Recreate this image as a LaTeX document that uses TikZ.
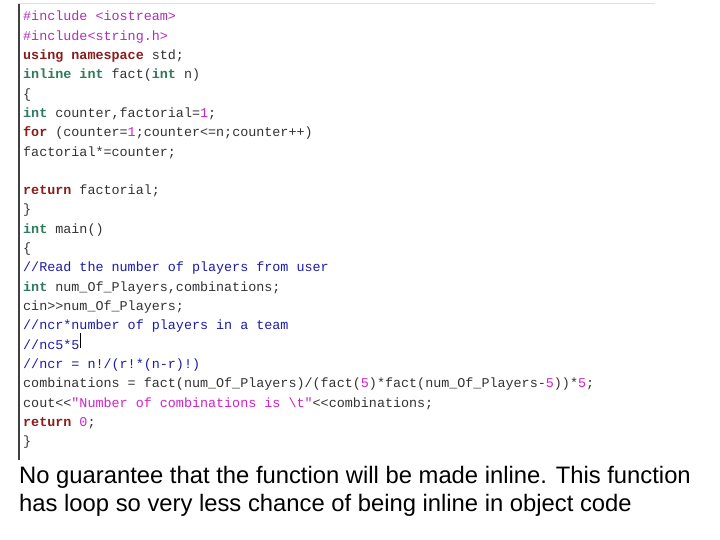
\documentclass[tikz,border=0pt]{standalone}
\usepackage{fontspec}
\setmainfont{Liberation Sans}
\newfontfamily\codefont{Liberation Mono}
\definecolor{pp}{HTML}{B030B8}
\definecolor{kr}{HTML}{8B1C1C}
\definecolor{kg}{HTML}{2E7A5C}
\definecolor{cb}{HTML}{1C1CA8}
\definecolor{mg}{HTML}{D022C8}
\definecolor{tx}{HTML}{333333}
\newcommand{\KR}[1]{\textcolor{kr}{\bfseries #1}}
\newcommand{\KG}[1]{\textcolor{kg}{\bfseries #1}}
\newcommand{\CM}[1]{\textcolor{cb}{#1}}
\newcommand{\MG}[1]{\textcolor{mg}{#1}}
\begin{document}
\begin{tikzpicture}[x=1pt,y=-1pt,
  code/.style={anchor=base west,inner sep=0pt,font=\codefont\fontsize{13.4}{14}\selectfont,text=tx},
  prose/.style={anchor=base west,inner sep=0pt,font=\fontsize{23.8}{28}\selectfont,text=black}]
\useasboundingbox (0,0) rectangle (720,540);
\fill[white] (0,0) rectangle (720,540);
\draw[black!12,line width=1pt] (18,3.5) -- (655,3.5);
\draw[black!75,line width=2pt] (19,4) -- (19,460);
\def\lx{23}
\node[code] (l1) at (\lx,21) {\textcolor{pp}{\#include <iostream>}};
\node[code] (l2) at (\lx,40.3) {\textcolor{pp}{\#include<string.h>}};
\node[code] (l3) at (\lx,59.6) {\KR{using namespace} std;};
\node[code] (l4) at (\lx,78.9) {\KG{inline int} fact(\KG{int} n)};
\node[code] (l5) at (\lx,98.2) {\{};
\node[code] (l6) at (\lx,117.5) {\KG{int} counter,factorial=\MG{1};};
\node[code] (l7) at (\lx,136.8) {\KR{for} (counter=\MG{1};counter<=n;counter++)};
\node[code] (l8) at (\lx,156.1) {factorial*=counter;};
\node[code] (l10) at (\lx,194.7) {\KR{return} factorial;};
\node[code] (l11) at (\lx,214) {\}};
\node[code] (l12) at (\lx,233.3) {\KG{int} main()};
\node[code] (l13) at (\lx,252.6) {\{};
\node[code] (l14) at (\lx,271.9) {\CM{//Read the number of players from user}};
\node[code] (l15) at (\lx,291.2) {\KG{int} num\_Of\_Players,combinations;};
\node[code] (l16) at (\lx,310.5) {cin>{}>num\_Of\_Players;};
\node[code] (l17) at (\lx,329.8) {\CM{//ncr*number of players in a team}};
\node[code] (l18) at (\lx,349.1) {\CM{//nc5*5}};
\draw[black,line width=0.6pt] (l18.east) ++(1,-11) -- ++(0,15);
\node[code] (l19) at (\lx,368.4) {\CM{//ncr = n!/(r!*(n-r)!)}};
\node[code] (l20) at (\lx,387.7) {combinations = fact(num\_Of\_Players)/(fact(\MG{5})*fact(num\_Of\_Players-\MG{5}))*\MG{5};};
\node[code] (l21) at (\lx,407) {cout<{}<\MG{"Number of combinations is \textbackslash t"}<{}<combinations;};
\node[code] (l22) at (\lx,426.3) {\KR{return} \MG{0};};
\node[code] (l23) at (\lx,445.6) {\}};
\node[prose] (p1) at (19,483) {No guarantee that the function will be made inline. This function};
\node[prose] (p2) at (19,511.5) {has loop so very less chance of being inline in object code};
\end{tikzpicture}
\end{document}
